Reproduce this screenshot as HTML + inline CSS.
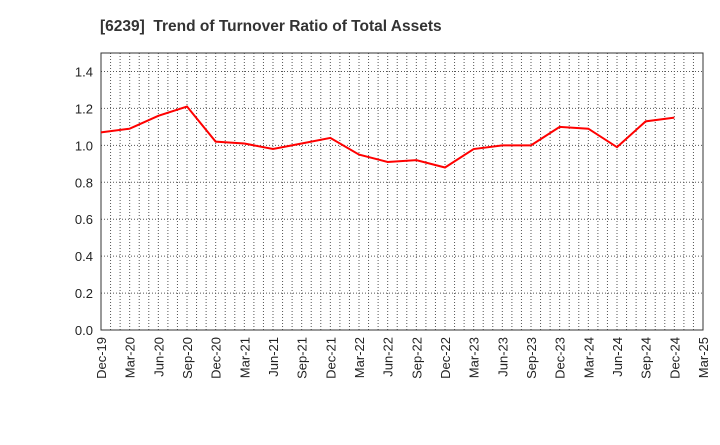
<!DOCTYPE html>
<html><head><meta charset="utf-8"><style>
body{margin:0;background:#fff;font-family:"Liberation Sans",sans-serif}
</style></head><body>
<svg width="720" height="440" xmlns="http://www.w3.org/2000/svg">
<text x="100" y="31" font-size="15.5" font-weight="bold" fill="#333" xml:space="preserve">[6239]  Trend of Turnover Ratio of Total Assets</text>
<g id="grid"></g><g id="axes"></g><g id="series"></g>
</svg>
<script>
const categories=["Dec-19","Mar-20","Jun-20","Sep-20","Dec-20","Mar-21","Jun-21","Sep-21","Dec-21","Mar-22","Jun-22","Sep-22","Dec-22","Mar-23","Jun-23","Sep-23","Dec-23","Mar-24","Jun-24","Sep-24","Dec-24","Mar-25"];
const values=[1.07,1.09,1.16,1.21,1.02,1.01,0.98,1.01,1.04,0.95,0.91,0.92,0.88,0.98,1.00,1.00,1.10,1.09,0.99,1.13,1.15];
const yTicks=[0,0.2,0.4,0.6,0.8,1.0,1.2,1.4];
const L=101,R=703,T=53,B=330,yMax=1.5;
const ns="http://www.w3.org/2000/svg";
const x=i=>L+(R-L)*i/(categories.length-1);
const y=v=>B-(B-T)*v/yMax;
function mk(tag,attrs,parent){const e=document.createElementNS(ns,tag);for(const k in attrs)e.setAttribute(k,attrs[k]);document.getElementById(parent).appendChild(e);return e;}
const nMonths=(categories.length-1)*3;
for(let m=1;m<nMonths;m++){const xx=L+(R-L)*m/nMonths;
const g=mk("line",{x1:xx,x2:xx,y1:T,y2:B,stroke:"#555","stroke-dasharray":"1,2","stroke-width":1},"grid");

}
yTicks.forEach(v=>{if(v>0){const g=mk("line",{x1:L,x2:R,y1:y(v),y2:y(v),stroke:"#555","stroke-dasharray":"1,2"},"grid");

}
const t=mk("text",{x:L-8,y:y(v)+5,"text-anchor":"end","font-size":13,fill:"#222"},"axes");t.textContent=v.toFixed(1);

});
const frame=mk("rect",{x:L,y:T,width:R-L,height:B-T,fill:"none",stroke:"#333","stroke-width":1},"axes");


categories.forEach((c,i)=>{const t=mk("text",{transform:`translate(${x(i)+5},${B+7}) rotate(-90)`,"text-anchor":"end","font-size":13,fill:"#222"},"axes");t.textContent=c;

});
const p=mk("polyline",{points:values.map((v,i)=>x(i)+","+y(v)).join(" "),fill:"none",stroke:"#f00","stroke-width":2},"series");


</script>
</body></html>
